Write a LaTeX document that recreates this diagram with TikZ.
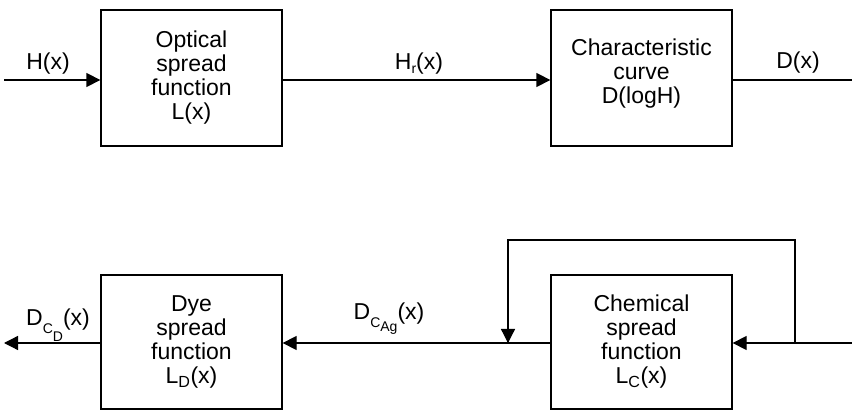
\documentclass[tikz,border=0pt]{standalone}
\usepackage{fontspec}
\setmainfont{Liberation Sans}
\usetikzlibrary{arrows.meta}
\newcommand{\mysub}[2]{\raisebox{-#1}{\fontsize{14}{14}\selectfont #2}}
\begin{document}
\begin{tikzpicture}[x=1pt,y=-1pt,
  blk/.style={draw,line width=1.3pt,minimum width=181pt,minimum height=136pt,inner sep=0pt,align=center,
    font=\fontsize{23}{24}\selectfont},
  lbl/.style={inner sep=0pt,anchor=base,font=\fontsize{23}{24}\selectfont},
  wire/.style={line width=1.3pt},
  arr/.style={wire,-{Triangle[length=14pt,width=14pt]}}]
\useasboundingbox (0,0) rectangle (852,411);
% top row
\node[blk] (opt) at (191.5,78) {Optical\\spread\\function\\L(x)};
\node[blk,text depth=14pt] (chr) at (641.5,78) {Characteristic\\curve\\D(logH)};
\coordinate (hin) at (4,80);
\coordinate (dout) at (852,80);
\draw[arr] (hin) -- (hin -| opt.west);
\draw[arr] (opt.east |- 0,80) -- (chr.west |- 0,80);
\draw[wire] (chr.east |- 0,80) -- (dout);
\node[lbl] (lh) at (48,70) {H(x)};
\node[lbl] (lhr) at (419,70) {H\mysub{4pt}{r}(x)};
\node[lbl] (ld) at (798,69) {D(x)};
% bottom row
\node[blk,minimum height=134pt] (dye) at (191.5,342) {Dye\\spread\\function\\L\textsubscript{D}(x)};
\node[blk,minimum height=134pt] (chm) at (641.5,342) {Chemical\\spread\\function\\L\textsubscript{C}(x)};
\coordinate (cin) at (852,343);
\coordinate (cout) at (4,343);
\coordinate (fb) at (795,343);
\coordinate (fj) at (508,343);
\draw[arr] (cin) -- (chm.east |- cin);
\draw[wire] (fb) |- (795,240) -| ([yshift=-0.65pt]fj);
\draw[arr] (508,240) -- (fj);
\draw[arr] (chm.west |- cin) -- (dye.east |- cin);
\draw[arr] (dye.west |- cin) -- (cout);
\node[lbl] (ldcd) at (58,326) {D\mysub{8pt}{C\mysub{8pt}{D}}(x)};
\node[lbl] (ldca) at (389,320) {D\mysub{8pt}{C\mysub{4pt}{Ag}}(x)};
\end{tikzpicture}
\end{document}
